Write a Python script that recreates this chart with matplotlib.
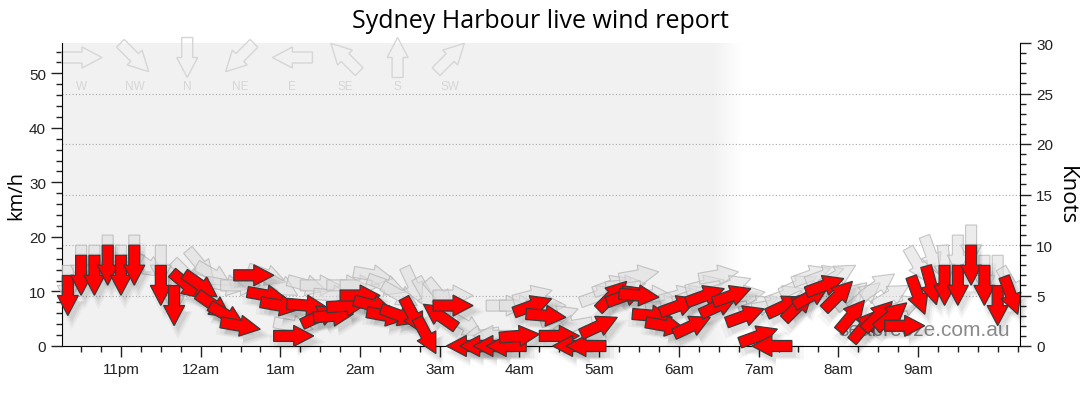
"""Sydney Harbour live wind report: wind arrows (mean + gust) over one night."""

import numpy as np
import matplotlib

matplotlib.use("Agg")
import matplotlib.pyplot as plt
from matplotlib.patches import Polygon
from matplotlib.ticker import MultipleLocator
from matplotlib.transforms import Affine2D, ScaledTranslation

plt.rcParams["font.family"] = ["Liberation Sans", "DejaVu Sans"]

KMH_PER_KNOT = 1.852

# observations every 10 minutes, 10:20pm -> 10:10am
times = [
    "22:20", "22:30", "22:40", "22:50",
    "23:00", "23:10", "23:20", "23:30", "23:40", "23:50",
    "00:00", "00:10", "00:20", "00:30", "00:40", "00:50",
    "01:00", "01:10", "01:20", "01:30", "01:40", "01:50",
    "02:00", "02:10", "02:20", "02:30", "02:40", "02:50",
    "03:00", "03:10", "03:20", "03:30", "03:40", "03:50",
    "04:00", "04:10", "04:20", "04:30", "04:40", "04:50",
    "05:00", "05:10", "05:20", "05:30", "05:40", "05:50",
    "06:00", "06:10", "06:20", "06:30", "06:40", "06:50",
    "07:00", "07:10", "07:20", "07:30", "07:40", "07:50",
    "08:00", "08:10", "08:20", "08:30", "08:40", "08:50",
    "09:00", "09:10", "09:20", "09:30", "09:40", "09:50",
    "10:00", "10:10",
]
# mean wind (knots) and the direction it blows from (degrees)
speed_kn = [
    5, 7, 7, 8,
    7, 8, np.nan, 6, 4, 6,
    6, 4, 3, 2, 7, 5,
    4, 1, 4, 3, 3, 4,
    5, 4, 3, 3, 3, 1,
    3, 4, 0, 0, 0, 0,
    1, 4, 3, 1, 0, 0,
    2, 5, 5, 5, 3, 2,
    4, 2, 5, 4, 5, 3,
    1, 0, 4, 4, 5, 6,
    5, 3, 2, 3, 3, 2,
    5, 6, 6, 6, 8, 6,
    4, 5,
]
dir_deg = [
    0, 0, 0, 0,
    0, 0, 305, 0, 0, 310,
    305, 305, 300, 280, 270, 280,
    280, 270, 275, 245, 265, 265,
    270, 285, 280, 290, 332, 332,
    125, 270, 90, 90, 90, 90,
    265, 250, 275, 270, 90, 90,
    245, 225, 250, 275, 275, 280,
    250, 245, 250, 245, 250, 250,
    250, 90, 245, 225, 240, 250,
    225, 220, 220, 225, 230, 270,
    340, 345, 0, 0, 0, 0,
    0, 340,
]
# gusts (knots) and their direction
gust_kn = [
    6, 8, 8, 9,
    8, 9, 8, 8, 5, 7,
    8, 7, 6, 6, 7, 7,
    6, 2, 6, 6, 5, 6,
    6, 7, 6, 5, 6, 5,
    5, 5, 2, 1, 1, 4,
    4, 5, 4, 3, 2, 1,
    5, 6, 6, 7, 5, 4,
    5, 5, 6, 7, 6, 5,
    4, 4, 5, 6, 7, 7,
    7, 5, 5, 6, 5, 4,
    8, 9, 8, 9, 10, 7,
    7, 6,
]
gust_dir_deg = [
    0, 0, 0, 0,
    0, 0, 305, 0, 0, 315,
    320, 300, 280, 270, 270, 290,
    300, 280, 285, 270, 275, 270,
    270, 280, 290, 300, 335, 330,
    320, 270, 300, 80, 90, 270,
    270, 255, 270, 250, 80, 90,
    250, 250, 265, 260, 270, 260,
    255, 250, 255, 260, 250, 260,
    250, 260, 250, 245, 250, 250,
    240, 230, 230, 235, 240, 250,
    330, 340, 355, 0, 0, 0,
    0, 330,
]

legend_names = ["W", "NW", "N", "NE", "E", "SE", "S", "SW"]
legend_dirs = [270, 315, 0, 45, 90, 135, 180, 225]

hour_ticks = [23, 24, 25, 26, 27, 28, 29, 30, 31, 32, 33]
hour_labels = ["11pm", "12am", "1am", "2am", "3am", "4am", "5am", "6am", "7am", "8am", "9am"]


def to_hours(s):
    h, m = map(int, s.split(":"))
    if h < 12:
        h += 24
    return h + m / 60


# arrow outline in pixels, pointing along +x, centred on its point
ARROW = np.array([(-20, -5.5), (0, -5.5), (0, -10.5), (20, 0),
                  (0, 10.5), (0, 5.5), (-20, 5.5)])


def add_arrow(ax, x, y, from_deg, base, scale=1.0, dx=0.0, dy=0.0, **kw):
    ang = -90 - from_deg
    tr = (Affine2D().scale(scale).rotate_deg(ang).translate(dx, dy)
          + ScaledTranslation(x, y, base))
    ax.add_patch(Polygon(ARROW, closed=True, transform=tr, clip_on=False, **kw))


x = np.array([to_hours(t) for t in times])
xmin, xmax = 22.26, 34.28
ymax = 30 * KMH_PER_KNOT

fig = plt.figure(figsize=(10.8, 4.14), dpi=100)
ax = fig.add_axes([62 / 1080, 67 / 414, 958 / 1080, 303 / 414])
ax.set_autoscale_on(False)
ax.set_xlim(xmin, xmax)
ax.set_ylim(0, ymax)

# night shading fading out around dawn
gx = np.linspace(xmin, xmax, 800)
fade = np.clip((gx - 30.45) / (30.78 - 30.45), 0, 1)
shade = 0.949 + (1 - 0.949) * fade
img = np.dstack([shade, shade, shade]).reshape(1, -1, 3)
ax.imshow(img, extent=[xmin, xmax, 0, ymax], aspect="auto", zorder=0,
          interpolation="bilinear")

for k in [5, 10, 15, 20, 25]:
    ax.axhline(k * KMH_PER_KNOT, color="#a8a8a8", lw=0.8, ls=(0, (1, 2)), zorder=1)

ax.text(0.9896, 0.035, "seabreeze.com.au", transform=ax.transAxes, ha="right",
        va="baseline", fontsize=15, color="#8a8a8a", zorder=2)

# direction key along the top
tr_base = ScaledTranslation(0, 1, ax.transAxes)
for i, (name, d) in enumerate(zip(legend_names, legend_dirs)):
    px = 20 + i * 52.6
    tr = Affine2D().rotate_deg(-90 - d).translate(px, -14.5) + tr_base
    ax.add_patch(Polygon(ARROW, closed=True, transform=tr, clip_on=False,
                         facecolor="none", edgecolor="#d6d6d6", lw=1.0, zorder=2))
    ax.text(px, -43, name, transform=Affine2D() + tr_base, ha="center",
            va="center", fontsize=8.5, color="#d6d6d6", zorder=2)

# gusts first, then shadows, then the mean wind on top
for xi, g, gd in zip(x, gust_kn, gust_dir_deg):
    add_arrow(ax, xi, g * KMH_PER_KNOT, gd, ax.transData,
              facecolor=(0.87, 0.87, 0.87, 0.55),
              edgecolor=(0.72, 0.72, 0.72, 0.8), lw=0.8, zorder=3)

for xi, s, d in zip(x, speed_kn, dir_deg):
    if np.isnan(s):
        continue
    for sc, a in [(1.4, 0.035), (1.2, 0.045), (1.0, 0.06)]:
        add_arrow(ax, xi, s * KMH_PER_KNOT, d, ax.transData, scale=sc,
                  dx=4, dy=-6, facecolor="black", alpha=a, lw=0, zorder=4)

for xi, s, d in zip(x, speed_kn, dir_deg):
    if np.isnan(s):
        continue
    add_arrow(ax, xi, s * KMH_PER_KNOT, d, ax.transData,
              facecolor="#ff0000", edgecolor="#3a3a3a", lw=0.9, zorder=5)

# axes, ticks
ax.set_xticks(hour_ticks)
ax.set_xticklabels(hour_labels)
ax.xaxis.set_minor_locator(MultipleLocator(0.25))
ax.set_yticks([0, 10, 20, 30, 40, 50])
ax.yaxis.set_minor_locator(MultipleLocator(2))
ax.tick_params(axis="both", which="major", length=8, width=1, labelsize=11,
               colors="#222222", direction="out")
ax.tick_params(axis="both", which="minor", length=4, width=1, color="#222222",
               direction="out")
for side in ["top", "right"]:
    ax.spines[side].set_visible(False)

ax2 = ax.twinx()
ax2.set_ylim(0, 30)
ax2.set_yticks([0, 5, 10, 15, 20, 25, 30])
ax2.yaxis.set_minor_locator(MultipleLocator(1))
ax2.tick_params(axis="y", which="major", length=8, width=1, labelsize=11,
                colors="#222222", direction="out")
ax2.tick_params(axis="y", which="minor", length=4, width=1, color="#222222",
                direction="out")
for side in ["top", "left", "bottom"]:
    ax2.spines[side].set_visible(False)

fig.text(0.5, 1 - 22 / 414, "Sydney Harbour live wind report", ha="center",
         va="center", fontsize=18, family=["Open Sans", "DejaVu Sans"])
fig.text(16 / 1080, 1 - 196 / 414, "km/h", rotation=90, ha="center",
         va="center", fontsize=14.5, family=["Open Sans", "DejaVu Sans"])
fig.text(1066 / 1080, 1 - 196 / 414, "Knots", rotation=270, ha="center",
         va="center", fontsize=16, family=["Open Sans", "DejaVu Sans"])

fig.savefig("out.png", dpi=100)
